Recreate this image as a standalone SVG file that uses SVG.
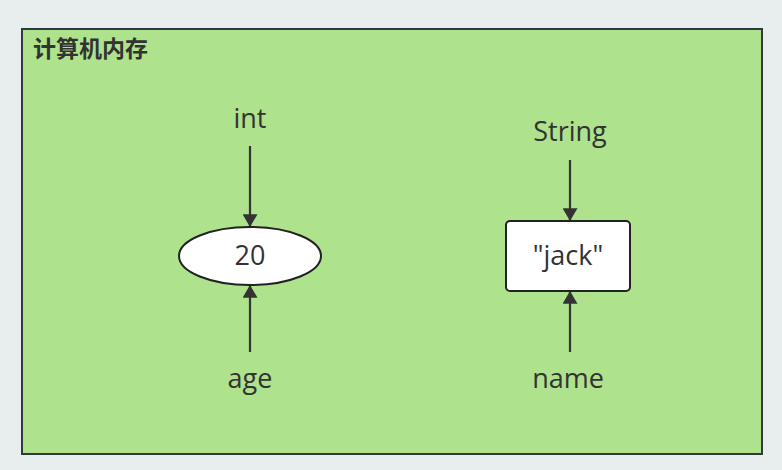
<svg xmlns="http://www.w3.org/2000/svg" width="782" height="470" viewBox="0 0 782 470">
<style>
.lbl{font-family:"Open Sans","Noto Sans","Noto Sans CJK SC",sans-serif;font-size:27px;fill:#333;text-anchor:middle}
.title{font-family:"Noto Sans CJK SC",sans-serif;font-size:23px;font-weight:bold;fill:#333}
.edge{stroke:#333;stroke-width:2.2;fill:none}
.node{fill:#fff;stroke:#222;stroke-width:2}
</style>
<defs>
<marker id="a2" viewBox="0 0 12 14" refX="12" refY="7" markerWidth="18" markerHeight="15" markerUnits="userSpaceOnUse" orient="auto">
<path d="M0,0 L12,7 L0,14 z" fill="#333"/>
</marker>
</defs>
<rect x="0" y="0" width="782" height="470" fill="#e8eeee"/>
<g id="memory">
<rect x="22" y="29" width="740" height="425" fill="#aee28c" stroke="#2e3a3f" stroke-width="2"/>
<text class="title" x="33" y="57">计算机内存</text>
</g>
<g id="connectors">
<line class="edge" x1="250" y1="146" x2="250" y2="227" marker-end="url(#a2)"/>
<line class="edge" x1="250" y1="352" x2="250" y2="285" marker-end="url(#a2)"/>
<line class="edge" x1="570" y1="160" x2="570" y2="221" marker-end="url(#a2)"/>
<line class="edge" x1="570" y1="352" x2="570" y2="291" marker-end="url(#a2)"/>
</g>
<g id="int"><text class="lbl" x="250" y="128">int</text></g>
<g id="age"><text class="lbl" x="250" y="388">age</text></g>
<g id="String"><text class="lbl" x="570" y="141">String</text></g>
<g id="name"><text class="lbl" x="568" y="388">name</text></g>
<g id="value20">
<ellipse class="node" cx="250" cy="256" rx="71" ry="29"/>
<text class="lbl" x="250" y="265">20</text>
</g>
<g id="jack">
<rect class="node" x="506" y="221" width="124" height="70" rx="4"/>
<text class="lbl" x="568" y="265">"jack"</text>
</g>
</svg>
